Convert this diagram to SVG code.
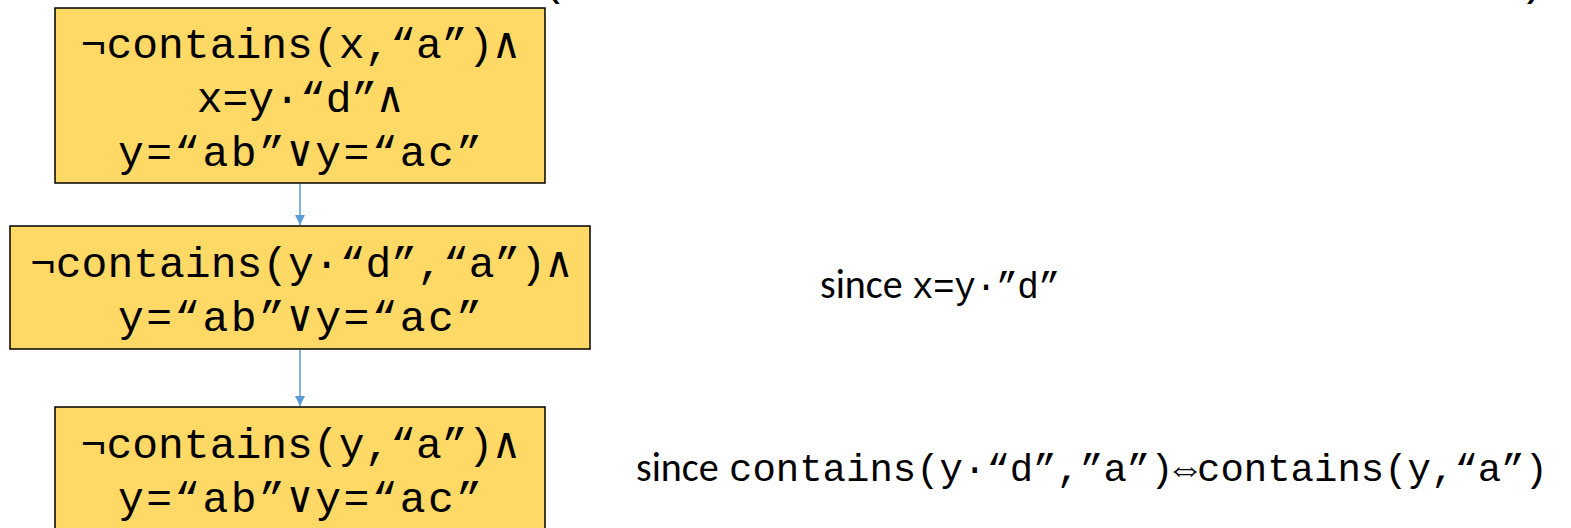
<svg xmlns="http://www.w3.org/2000/svg" width="1571" height="528" viewBox="0 0 1571 528">
<style>
.box{fill:#FFD966;stroke:#000;stroke-width:1.5}
.mono{font-family:"Liberation Mono","Courier New",monospace;font-size:43px;fill:#000}
.c{text-anchor:middle}
.sans{font-family:"Carlito","Liberation Sans","Open Sans",sans-serif;font-size:40px;fill:#000}
.conn{stroke:#5B9BD5;stroke-width:1.5;fill:none}
</style>
<defs>
<marker id="ah" markerWidth="10" markerHeight="10" refX="10" refY="5" orient="auto" markerUnits="userSpaceOnUse">
<path d="M0,0 L10,5 L0,10 Z" fill="#5B9BD5"/>
</marker>
</defs>
<g id="top-cut">
<text class="mono" x="541" y="-5">(</text>
<text class="mono" x="1520" y="-5">)</text>
</g>
<g id="connectors">
<line class="conn" x1="300" y1="184" x2="300" y2="225" marker-end="url(#ah)"/>
<line class="conn" x1="300" y1="350" x2="300" y2="406" marker-end="url(#ah)"/>
</g>
<g id="node1">
<rect class="box" x="55" y="8" width="490" height="175"/>
<text class="mono c" x="300" y="58">¬contains(x,“a”)∧</text>
<text class="mono c" x="300" y="112">x=y·“d”∧</text>
<text class="mono c" x="300" y="166" textLength="364" lengthAdjust="spacing">y=“ab”∨y=“ac”</text>
</g>
<g id="node2">
<rect class="box" x="10" y="226" width="580" height="123"/>
<text class="mono c" x="301" y="277" textLength="542" lengthAdjust="spacing">¬contains(y·“d”,“a”)∧</text>
<text class="mono c" x="300" y="331" textLength="364" lengthAdjust="spacing">y=“ab”∨y=“ac”</text>
</g>
<g id="node3">
<rect class="box" x="55" y="407" width="490" height="130"/>
<text class="mono c" x="300" y="458">¬contains(y,“a”)∧</text>
<text class="mono c" x="300" y="512" textLength="364" lengthAdjust="spacing">y=“ab”∨y=“ac”</text>
</g>
<g id="note1">
<text class="sans" x="820" y="298">since</text>
<text class="mono" x="912" y="298" style="font-size:36px" textLength="148" lengthAdjust="spacing">x=y·”d”</text>
</g>
<g id="note2">
<text class="sans" x="636" y="481">since</text>
<text class="mono" x="729" y="481" style="font-size:39px" textLength="819" lengthAdjust="spacing">contains(y·“d”,”a”)⇔contains(y,“a”)</text>
</g>
</svg>
